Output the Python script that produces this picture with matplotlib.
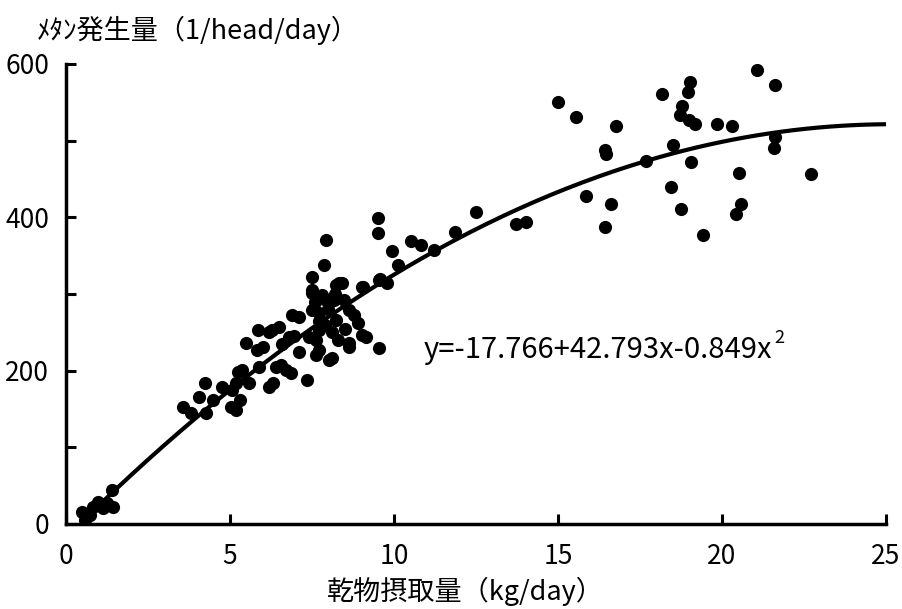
import numpy as np
import matplotlib
matplotlib.use("Agg")
from matplotlib import pyplot as plt

plt.rcParams['font.family'] = ['Noto Sans CJK JP', 'DejaVu Sans']

# dry matter intake (kg/day) and methane (l/head/day)
dmi = [0.48, 0.57, 0.82, 0.97, 1.24, 1.39, 1.42, 1.12, 0.72,
       3.56, 3.82, 4.07, 4.25, 4.28, 4.47, 4.77, 5.04, 5.07, 5.19, 5.29, 5.19, 5.38, 5.23,
       5.50, 5.85, 5.81, 6.00, 5.89, 6.20, 6.27, 6.30, 6.20, 5.59, 6.56, 6.50, 6.41, 6.72,
       6.81, 6.86, 6.90,
       7.36, 7.49, 7.49, 7.51, 7.51, 7.63, 7.63, 7.72, 7.81, 7.93, 7.93, 8.03, 8.12, 8.24,
       8.24, 8.33, 8.40, 8.63, 8.63, 8.63, 9.03, 9.03, 9.15, 9.54, 9.54, 7.42, 7.72, 7.11,
       7.72, 8.48, 8.79, 8.18, 7.88,
       7.90, 8.10, 8.30, 8.00, 7.70, 8.50, 8.90, 7.60, 8.20, 6.60, 6.95, 7.10,
       9.52, 9.52, 9.58, 9.79, 9.06, 9.94, 10.12, 10.52, 10.82, 11.22, 11.86, 12.50, 13.71,
       14.01,
       14.99, 15.54, 16.76, 16.43, 16.46, 15.85, 16.61, 16.43, 17.67, 18.16, 18.52, 18.43,
       18.74, 19.01, 18.95, 18.77, 18.71, 18.98, 19.19, 19.07, 19.41, 19.86, 20.29, 20.53,
       20.59, 20.44, 21.08, 21.63, 21.63, 21.60, 22.72]
ch4 = [16, 5, 22, 29, 27, 44, 22, 21, 12,
       153, 145, 166, 184, 145, 162, 179, 153, 175, 149, 162, 184, 201, 198,
       236, 253, 227, 231, 205, 250, 253, 184, 179, 184, 207, 257, 205, 201,
       244, 197, 272,
       188, 322, 305, 279, 301, 240, 220, 275, 299, 292, 370, 214, 216, 312,
       266, 314, 315, 279, 236, 231, 309, 246, 244, 318, 229, 244, 227, 270,
       253, 292, 272, 292, 338,
       260, 250, 240, 280, 265, 255, 262, 290, 300, 235, 245, 225,
       399, 379, 319, 314, 309, 356, 338, 369, 364, 357, 381, 407, 391,
       394,
       550, 531, 519, 488, 482, 428, 417, 387, 473, 561, 495, 439,
       411, 576, 563, 545, 533, 527, 522, 472, 377, 522, 519, 458,
       417, 405, 592, 572, 505, 490, 456]

# quadratic fit given on the chart
coef = [-17.766, 42.793, -0.849]

xticks = [0, 5, 10, 15, 20, 25]
yticks = [0, 200, 400, 600]

fig = plt.figure(figsize=(9.02, 6.09), dpi=100)
ax = fig.add_axes([66/902, 1 - 524/609, 820/902, 460/609])

ax.scatter(dmi, ch4, s=90, color='black', zorder=3, linewidths=0)
xs = np.linspace(0.5, 25, 200)
ax.plot(xs, coef[0] + coef[1]*xs + coef[2]*xs**2, color='black', lw=3)

ax.set_xlim(0, 25)
ax.set_ylim(0, 600)
ax.set_xticks(xticks)
ax.set_yticks(yticks)
ax.set_yticks([100, 300, 500], minor=True)
ax.tick_params(direction='in', width=2.2, length=7, labelsize=19, colors='black')
ax.tick_params(axis='y', which='minor', direction='in', width=2.2, length=7)
ax.tick_params(axis='y', pad=12)
ax.tick_params(axis='x', pad=14)
for s in ['top', 'right']:
    ax.spines[s].set_visible(False)
for s in ['left', 'bottom']:
    ax.spines[s].set_linewidth(2.5)

eq = ax.text(10.9, 227, 'y=-17.766+42.793x-0.849x', fontsize=21, va='center', ha='left')
ax.annotate('2', xy=(1, 0.9), xycoords=eq, xytext=(2, 0), textcoords='offset points',
            fontsize=13, va='center', ha='left')

fig.text(37/902, 1 - 30/609, 'ﾒﾀﾝ発生量（1/head/day）', fontsize=19.5, va='center', ha='left')
fig.text(465/902, 1 - 591/609, '乾物摂取量（kg/day）', fontsize=19.5, va='center', ha='center')

fig.savefig('out.png', dpi=100)
